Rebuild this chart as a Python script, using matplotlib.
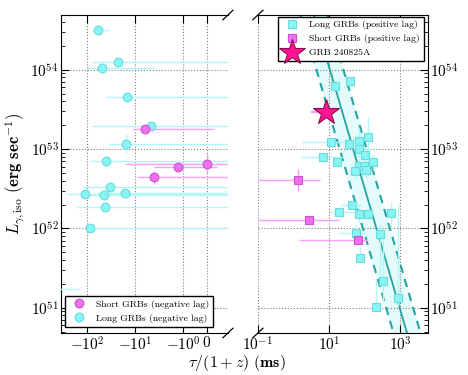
import numpy as np
import matplotlib
matplotlib.use("Agg")
from matplotlib import pyplot as plt

plt.rcParams['mathtext.fontset'] = 'cm'
plt.rcParams['font.family'] = 'serif'
plt.rcParams['font.serif'] = ['cmr10', 'DejaVu Serif']
plt.rcParams['axes.formatter.use_mathtext'] = True
plt.rcParams['axes.unicode_minus'] = False

# long GRBs, negative lag (ms) and luminosity (erg/s)
neg_long_tau = [-60, -23, -49, -15, -4.6, -15.6, -40, -33.5, -110, -16.4, -44.5, -42, -89, -600]
neg_long_L = [3.2e54, 1.26e54, 1.04e54, 4.5e53, 1.95e53, 1.17e53, 7.0e52, 3.3e52, 2.75e52,
              2.8e52, 2.6e52, 1.86e52, 1.0e52, 1.74e51]
neg_long_xlo = [20, 57, 46, 26, 75, 19, 48, 97, 158, 45, 44, 130, 3, 0]
neg_long_xhi = [24, 30, 45, 20, 10, 21, 45, 39, 115, 22, 50, 47, 94, 453]
neg_long_dlog = [0.03, 0.03, 0.04, 0.03, 0.04, 0.12, 0.05, 0.03, 0.03, 0.03, 0.03, 0.03, 0.03, 0.03]

# short GRBs, negative lag
neg_short_tau = [-6.2, -1.27, -0.01, -4.0]
neg_short_L = [1.78e53, 5.9e52, 6.5e52, 4.4e52]
neg_short_xlo = [5.1, 2.9, 16.3, 5.2]
neg_short_xhi = [6.5, 1.7, 6.0, 9.0]
neg_short_dlog = [0.04, 0.06, 0.12, 0.08]

# long GRBs, positive lag
pos_long_tau = [40, 15, 129, 11.6, 36, 69, 69, 101, 6.8, 16.4, 178, 69, 97, 108, 55,
                43.5, 18.7, 69, 123, 540, 58, 280, 75, 325, 890, 213]
pos_long_L = [7.2e53, 6.3e53, 1.41e53, 1.23e53, 1.17e53, 1.26e53, 1.0e53, 8.4e52, 7.9e52,
              6.9e52, 6.8e52, 6.2e52, 6.2e52, 5.5e52, 5.3e52,
              2.0e52, 1.62e52, 1.52e52, 1.53e52, 1.55e52, 8.7e51, 8.6e51, 4.2e51, 2.2e51,
              1.32e51, 1.02e51]
pos_long_xlo = [0.05, 0.05, 0.1, 0.81, 0.1, 0.1, 0.1, 0.1, 0.62, 0.1, 0.1, 0.1, 0.1, 0.1, 0.1,
                0.3, 0.25, 0.1, 0.1, 0.1, 0.47, 0.1, 0.1, 0.1, 0.1, 0.1]
pos_long_xhi = [0.05, 0.05, 0.1, 0.65, 0.1, 0.1, 0.1, 0.1, 0.6, 0.1, 0.1, 0.1, 0.1, 0.1, 0.1,
                0.27, 0.54, 0.1, 0.1, 0.1, 0.26, 0.1, 0.1, 0.1, 0.1, 0.1]
pos_long_ylo = [0.04, 0.04, 0.3, 0.05, 0.05, 0.2, 0.1, 0.1, 0.05, 0.05, 0.1, 0.1, 0.1, 0.1, 0.1,
                0.05, 0.05, 0.1, 0.05, 0.2, 0.1, 0.58, 0.04, 0.27, 0.1, 0.05]
pos_long_yhi = [0.04, 0.04, 0.25, 0.05, 0.05, 0.15, 0.1, 0.1, 0.05, 0.05, 0.1, 0.1, 0.1, 0.1, 0.1,
                0.05, 0.05, 0.12, 0.05, 0.14, 0.1, 0.11, 0.15, 0.56, 1.19, 0.37]

# short GRBs, positive lag
pos_short_tau = [1.38, 2.8, 64]
pos_short_L = [4.1e52, 1.29e52, 7.2e51]
pos_short_xlo = [1.3, 2.75, 62.6]
pos_short_xhi = [4.3, 15.8, 59]
pos_short_dlog = [0.14, 0.04, 0.05]

# GRB 240825A
star_tau = 8.2
star_L = 2.95e53
star_xlo = 5.1

# lag-luminosity relation: log L = a + b log tau, scatter in dex
fit_a = 55.57
fit_b = -1.53
fit_sig = 0.58

cyan_face = '#8af4f4'
cyan_edge = '#66dede'
cyan_bar = '#b4f6f6'
mag_face = '#ee70ee'
mag_edge = '#d050d0'
mag_bar = '#f7a0f7'
fit_col = '#26a3a3'


def yerr_from_dex(L, lo, hi):
    L = np.array(L)
    return [L - L * 10 ** (-np.array(lo)), L * 10 ** np.array(hi) - L]


fig = plt.figure(figsize=(4.68, 3.75), dpi=100)
ax1 = fig.add_axes([0.130, 0.112, 0.357, 0.848])
ax2 = fig.add_axes([0.551, 0.112, 0.363, 0.848], sharey=ax1)

# left panel: negative lags
ax1.set_xscale('symlog', linthresh=1, linscale=0.44)
ax1.set_yscale('log')
h_sn = ax1.errorbar(neg_short_tau, neg_short_L, xerr=[neg_short_xlo, neg_short_xhi],
                    yerr=yerr_from_dex(neg_short_L, neg_short_dlog, neg_short_dlog),
                    fmt='o', ms=6.3, mfc=mag_face, mec=mag_edge, mew=0.8, ecolor=mag_bar,
                    elinewidth=1, capsize=0, zorder=4, label='Short GRBs (negative lag)')
h_ln = ax1.errorbar(neg_long_tau, neg_long_L, xerr=[neg_long_xlo, neg_long_xhi],
                    yerr=yerr_from_dex(neg_long_L, neg_long_dlog, neg_long_dlog),
                    fmt='o', ms=6.3, mfc=cyan_face, mec=cyan_edge, mew=0.8, ecolor=cyan_bar,
                    elinewidth=1, capsize=0, zorder=3, label='Long GRBs (negative lag)')
ax1.set_xlim(-355, 0.9)
ax1.set_ylim(4.8e50, 4.9e54)
ax1.set_xticks([-100, -10, -1, 0])
ax1.spines['right'].set_visible(False)
ax1.tick_params(which='both', direction='in', top=True, right=False, labelsize=11, pad=1.5)
ax1.tick_params(which='major', length=6)
ax1.tick_params(which='minor', length=3)
ax1.grid(True, which='major', ls=':', color='grey', lw=0.8)
ax1.set_ylabel(r"$L_{\gamma,\mathrm{iso}}\ \mathbf{(erg\ sec^{-1})}$", fontsize=12)
ax1.yaxis.set_label_coords(-0.2, 0.5)
ax1.legend(handles=[h_sn, h_ln], loc='lower left', bbox_to_anchor=(0.025, 0.02),
           borderaxespad=0, fontsize=7, fancybox=False, edgecolor='k', framealpha=1)

# right panel: positive lags
ax2.set_xscale('log')
xx = np.logspace(-1.5, 4.5, 200)
line = 10 ** (fit_a + fit_b * np.log10(xx))
ax2.fill_between(xx, line * 10 ** (-fit_sig), line * 10 ** fit_sig, color='#e3fbfb', zorder=1)
ax2.plot(xx, line, color=fit_col, lw=1.3, zorder=2)
ax2.plot(xx, line * 10 ** fit_sig, color=fit_col, lw=1.5, ls='--', dashes=(4, 3), zorder=2)
ax2.plot(xx, line * 10 ** (-fit_sig), color=fit_col, lw=1.5, ls='--', dashes=(4, 3), zorder=2)

pl_tau = np.array(pos_long_tau)
h_lp = ax2.errorbar(pos_long_tau, pos_long_L,
                    xerr=[pl_tau - pl_tau * 10 ** (-np.array(pos_long_xlo)),
                          pl_tau * 10 ** np.array(pos_long_xhi) - pl_tau],
                    yerr=yerr_from_dex(pos_long_L, pos_long_ylo, pos_long_yhi),
                    fmt='s', ms=6.3, mfc=cyan_face, mec=cyan_edge, mew=0.8, ecolor=cyan_bar,
                    elinewidth=1, capsize=0, zorder=3, label='Long GRBs (positive lag)')
h_sp = ax2.errorbar(pos_short_tau, pos_short_L, xerr=[pos_short_xlo, pos_short_xhi],
                    yerr=yerr_from_dex(pos_short_L, pos_short_dlog, pos_short_dlog),
                    fmt='s', ms=6.3, mfc=mag_face, mec=mag_edge, mew=0.8, ecolor=mag_bar,
                    elinewidth=1, capsize=0, zorder=4, label='Short GRBs (positive lag)')
ax2.errorbar([star_tau], [star_L], xerr=[[star_xlo], [0.5]], fmt='none', ecolor=mag_bar,
             elinewidth=1.5, zorder=4)
h_st, = ax2.plot([star_tau], [star_L], marker='*', ms=19, mfc='#ff1493', mec='#8a0a4a',
                 mew=0.8, ls='none', zorder=5, label='GRB 240825A')
ax2.set_xlim(0.1, 6000)
ax2.spines['left'].set_visible(False)
ax2.tick_params(which='both', direction='in', top=True, left=False, right=True,
                labelleft=False, labelright=True, labelsize=11, pad=1.5)
ax2.tick_params(which='major', length=6)
ax2.tick_params(which='minor', length=3)
ax2.grid(True, which='major', ls=':', color='grey', lw=0.8)
ax2.legend(handles=[h_lp, h_sp, h_st], loc='upper right', bbox_to_anchor=(0.978, 0.995),
           borderaxespad=0, fontsize=7, fancybox=False, edgecolor='k', framealpha=1)

# broken axis marks
d = 0.015
kw = dict(color='k', clip_on=False, lw=0.9)
ax1.plot((1 - 2 * d, 1 + 2 * d), (-d, d), transform=ax1.transAxes, **kw)
ax1.plot((1 - 2 * d, 1 + 2 * d), (1 - d, 1 + d), transform=ax1.transAxes, **kw)
ax2.plot((-2 * d, 2 * d), (-d, d), transform=ax2.transAxes, **kw)
ax2.plot((-2 * d, 2 * d), (1 - d, 1 + d), transform=ax2.transAxes, **kw)

fig.text(0.507, 0.033, r"$\tau/(1+z)\ \mathbf{(ms)}$", ha='center', va='center', fontsize=11.5)

fig.savefig('out.png', dpi=100)
